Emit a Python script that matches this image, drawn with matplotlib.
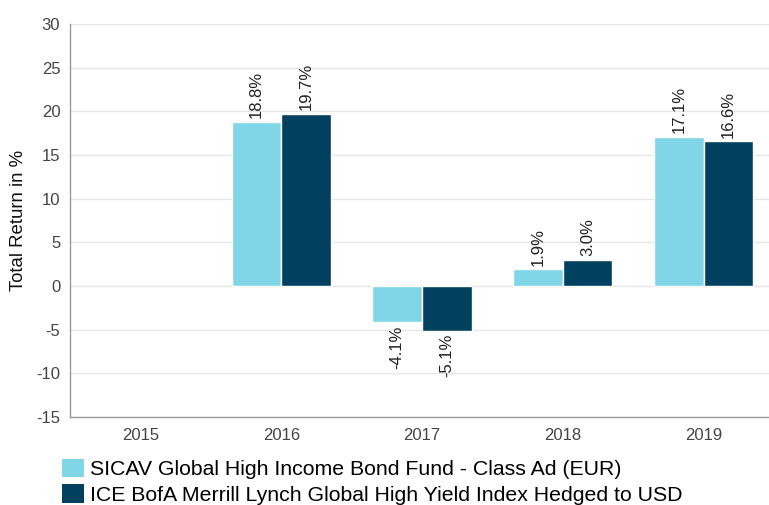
import matplotlib
matplotlib.use("Agg")
import matplotlib.pyplot as plt
import numpy as np
from matplotlib.patches import Patch

plt.rcParams['font.family'] = ['Liberation Sans', 'DejaVu Sans']
plt.rcParams['axes.unicode_minus'] = False

years = ["2015", "2016", "2017", "2018", "2019"]
fund = [np.nan, 18.8, -4.1, 1.9, 17.1]
index = [np.nan, 19.7, -5.1, 3.0, 16.6]
series_names = ["SICAV Global High Income Bond Fund - Class Ad (EUR)",
                "ICE BofA Merrill Lynch Global High Yield Index Hedged to USD"]
colors = ["#80d5e6", "#01415f"]

fig = plt.figure(figsize=(7.69, 5.05), dpi=100)
ax = fig.add_axes([70/769, 1-417/505, 704/769, (417-24)/505])

x = np.arange(len(years))
w = 0.352
for vals, off, c in [(fund, -w/2, colors[0]), (index, w/2, colors[1])]:
    ax.bar(x + off, vals, width=w, color=c, edgecolor="white", linewidth=1, zorder=3)
    for xi, v in zip(x + off, vals):
        if np.isnan(v):
            continue
        if v >= 0:
            ax.annotate(f"{v:.1f}%", (xi, v), xytext=(0, 2.5), textcoords="offset points",
                        rotation=90, ha="center", va="bottom", fontsize=12, color="#222222")
        else:
            ax.annotate(f"{v:.1f}%", (xi, v), xytext=(0, -2.5), textcoords="offset points",
                        rotation=90, ha="center", va="top", fontsize=12, color="#222222")

ax.set_xlim(-0.5, 4.5)
ax.set_ylim(-15, 30)
ax.set_yticks(range(-15, 31, 5))
ax.set_xticks(x)
ax.set_xticklabels(years)
ax.grid(axis="y", color="#e6e6e6", linewidth=1, zorder=0)
ax.set_axisbelow(True)
for s in ["top", "right"]:
    ax.spines[s].set_visible(False)
for s in ["left", "bottom"]:
    ax.spines[s].set_color("#999999")
    ax.spines[s].set_linewidth(1)
ax.tick_params(length=0, labelsize=12, labelcolor="#444444", pad=7)
ax.tick_params(axis="x", pad=8)
ax.set_ylabel("Total Return in %", fontsize=13.4, color="#111111", labelpad=7)

handles = [Patch(facecolor=colors[0]), Patch(facecolor=colors[1])]
fig.legend(handles, series_names, loc="lower left", bbox_to_anchor=(58/769, -4/505),
           frameon=False, fontsize=15.3, handlelength=1.0, handleheight=0.95,
           handletextpad=0.3, labelspacing=0.24, borderaxespad=0.0, borderpad=0.2)

fig.savefig("out.png", dpi=100)
